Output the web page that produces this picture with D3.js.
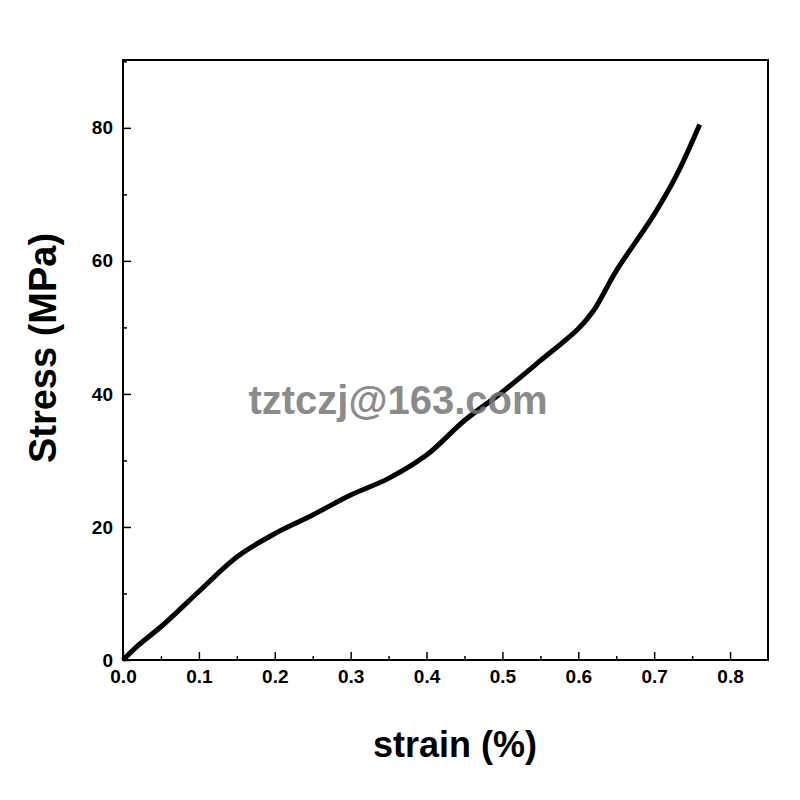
<!DOCTYPE html><html><head><script src="https://cdn.jsdelivr.net/npm/d3@7"></script>
<style>body{margin:0;background:#fff}</style></head><body><svg id="c" width="800" height="800"></svg><script>
const strain=[0,0.02,0.05,0.1,0.15,0.2,0.25,0.3,0.35,0.4,0.45,0.5,0.55,0.6,0.62,0.65,0.7,0.73,0.76];
const stress=[0,2.2,5,10.3,15.5,19,21.8,24.8,27.3,30.8,36,40.3,45,49.8,52.5,58.5,67,73,80.5];
const xTicks=[0,0.1,0.2,0.3,0.4,0.5,0.6,0.7,0.8];
const yTicks=[0,20,40,60,80];
const svg=d3.select("#c");
const L=123,R=768,T=60,B=660;
const x=d3.scaleLinear().domain([0,0.85]).range([L,R]);
const y=d3.scaleLinear().domain([0,90.2]).range([B,T]);
const font="Liberation Sans, Arial, sans-serif";
svg.append("rect").attr("x",L).attr("y",T).attr("width",R-L).attr("height",B-T).attr("fill","none").attr("stroke","#000").attr("stroke-width",2);
svg.append("g").attr("transform",`translate(0,${B})`).call(d3.axisBottom(x).tickValues(xTicks).tickFormat(d3.format(".1f")).tickSizeInner(-8).tickSizeOuter(0).tickPadding(10));
svg.append("g").attr("transform",`translate(${L},0)`).call(d3.axisLeft(y).tickValues(yTicks).tickSizeInner(-8).tickSizeOuter(0).tickPadding(10));
svg.append("g").attr("transform",`translate(0,${B})`).call(d3.axisBottom(x).tickValues(d3.range(0.05,0.85,0.1)).tickFormat("").tickSizeInner(-4).tickSizeOuter(0));
svg.append("g").attr("transform",`translate(${L},0)`).call(d3.axisLeft(y).tickValues([10,30,50,70,90]).tickFormat("").tickSizeInner(-4).tickSizeOuter(0));
svg.selectAll(".domain").remove();
svg.selectAll(".tick line").attr("stroke","#000").attr("stroke-width",1.5);
svg.selectAll(".tick text").attr("font-family",font).attr("font-weight","bold").attr("font-size",19).attr("fill","#000");
svg.append("path").datum(strain.map((s,i)=>[s,stress[i]])).attr("d",d3.line().x(d=>x(d[0])).y(d=>y(d[1])).curve(d3.curveCatmullRom.alpha(0.5))).attr("fill","none").attr("stroke","#000").attr("stroke-width",5);
svg.append("text").attr("x",455).attr("y",757).attr("text-anchor","middle").attr("font-family",font).attr("font-weight","bold").attr("font-size",36).text("strain (%)");
svg.append("text").attr("transform","translate(56,348) rotate(-90)").attr("text-anchor","middle").attr("font-family",font).attr("font-weight","bold").attr("font-size",38).text("Stress (MPa)");
svg.append("text").attr("x",398).attr("y",414).attr("text-anchor","middle").attr("font-family",font).attr("font-weight","bold").attr("font-size",40).attr("fill","#777").attr("opacity",0.85).text("tztczj@163.com");
</script></body></html>
